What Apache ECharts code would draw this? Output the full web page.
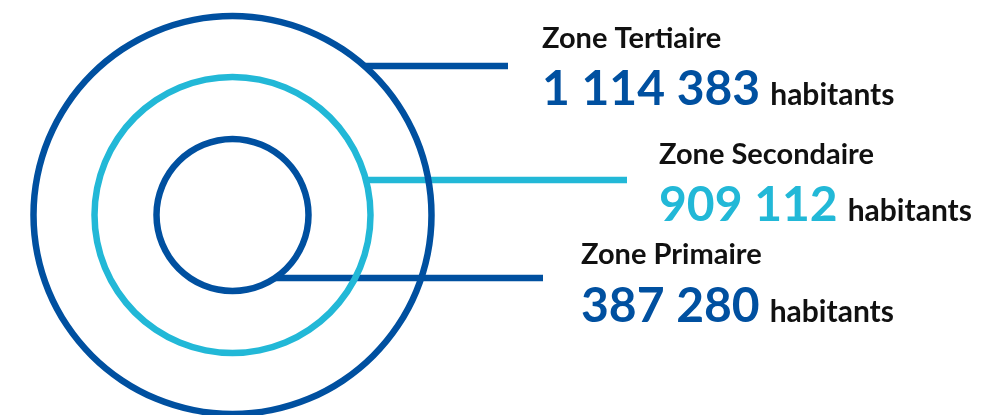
<!DOCTYPE html>
<html>
<head>
<meta charset="utf-8">
<script src="https://cdn.jsdelivr.net/npm/echarts@6/dist/echarts.min.js"></script>
<style>
  html, body { margin: 0; padding: 0; background: #ffffff; }
  #chart { width: 999px; height: 415px; }
</style>
</head>
<body>
<div id="chart"></div>
<script>
// ---- Data ----
const zones = ['Zone Tertiaire', 'Zone Secondaire', 'Zone Primaire'];
const populations = [1114383, 909112, 387280];
const unitLabel = 'habitants';

// ---- Layout & style (not data) ----
const CENTER = [232.5, 215];
const RADII = [199, 138, 76];
const RING_W = 6.5;
const LEADER_Y = [66, 180, 278];
const LEADER_END = [508, 627, 543];
const TEXT_X = [542, 659, 581];
const TITLE_BASE = [48, 164, 264];
const NUM_BASE = [105, 221, 322];
const COLORS = ['#0050A0', '#22B8D7', '#0050A0'];
const FONT = 'Lato, "Open Sans", sans-serif';
const TITLE_SIZE = 29, NUM_SIZE = 48, UNIT_SIZE = 30;
const MID = 0.33; // baseline -> middle offset factor

function fmt(n) { return String(n).replace(/\B(?=(\d{3})+(?!\d))/g, ' '); }

const ctx = document.createElement('canvas').getContext('2d');
function measure(text, size) {
  ctx.font = 'bold ' + size + 'px ' + FONT;
  return ctx.measureText(text).width;
}

const chart = echarts.init(document.getElementById('chart'), null, { renderer: 'canvas' });

const series = zones.map((z, i) => ({
  type: 'pie',
  name: z,
  center: CENTER,
  radius: [RADII[i] - RING_W / 2, RADII[i] + RING_W / 2],
  silent: true,
  animation: false,
  label: { show: false },
  labelLine: { show: false },
  itemStyle: { color: COLORS[i] },
  data: [{ name: z, value: populations[i] }],
  z: 2
}));

const graphics = [];
zones.forEach((z, i) => {
  const dy = CENTER[1] - LEADER_Y[i];
  const x0 = CENTER[0] + Math.sqrt(RADII[i] * RADII[i] - dy * dy);
  graphics.push({
    type: 'line', z: 1,
    shape: { x1: x0, y1: LEADER_Y[i], x2: LEADER_END[i], y2: LEADER_Y[i] },
    style: { stroke: COLORS[i], lineWidth: RING_W }
  });
  graphics.push({
    type: 'text', x: TEXT_X[i], y: TITLE_BASE[i] - MID * TITLE_SIZE,
    style: { text: z, fill: '#111111', font: 'bold ' + TITLE_SIZE + 'px ' + FONT, verticalAlign: 'middle', align: 'left' }
  });
  const numText = fmt(populations[i]);
  graphics.push({
    type: 'text', x: TEXT_X[i], y: NUM_BASE[i] - MID * NUM_SIZE,
    style: { text: numText, fill: COLORS[i], font: 'bold ' + NUM_SIZE + 'px ' + FONT, verticalAlign: 'middle', align: 'left' }
  });
  const w = measure(numText, NUM_SIZE);
  graphics.push({
    type: 'text', x: TEXT_X[i] + w + 10, y: NUM_BASE[i] - MID * UNIT_SIZE,
    style: { text: unitLabel, fill: '#111111', font: 'bold ' + UNIT_SIZE + 'px ' + FONT, verticalAlign: 'middle', align: 'left' }
  });
});

chart.setOption({
  animation: false,
  backgroundColor: '#ffffff',
  series: series,
  graphic: { elements: graphics }
});
</script>
</body>
</html>
